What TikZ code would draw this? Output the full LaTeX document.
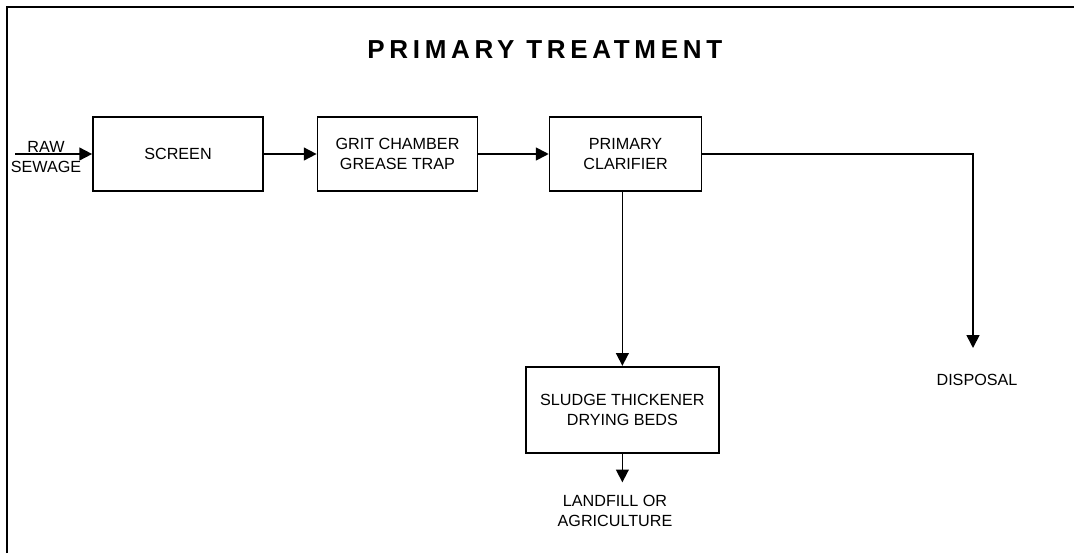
\documentclass[tikz,border=0pt]{standalone}
\usepackage{fontspec}
\setmainfont{Liberation Sans}
\newfontfamily\titlefont[LetterSpace=18]{Liberation Sans}
\usetikzlibrary{positioning,arrows.meta}

\begin{document}
\begin{tikzpicture}[node distance=1.32cm,>={Triangle[length=0.32cm,width=0.32cm]},line width=1.2pt,
    unit/.style={draw, minimum height=1.85cm, align=center, font=\fontsize{11.5}{14}\selectfont},
    lbl/.style={align=center, font=\fontsize{11.5}{14}\selectfont}]
        \useasboundingbox (0,0) rectangle (26.85,-13.825);
        \draw[line width=1.5pt] (0.175,-13.825) -- (0.175,-0.175) -- (26.85,-0.175);
        \node (title) at (13.62,-1.25) {\titlefont\bfseries\fontsize{18.5}{22}\selectfont PRIMARY TREATMENT};
        \node (screen) [unit, minimum width=4.25cm] at (4.45,-3.85) {SCREEN};
        \node (grit) [unit, minimum width=4cm, right=of screen] {GRIT CHAMBER\\GREASE TRAP};
        \node (clar) [unit, minimum width=3.8cm, right=1.76cm of grit] {PRIMARY\\CLARIFIER};
        \node (sludge) [unit, minimum width=4.825cm, minimum height=2.15cm, below=4.35cm of clar, xshift=-0.08cm] {SLUDGE THICKENER\\DRYING BEDS};
        \coordinate (rawin) at (0.375,-3.85);
        \node (raw) [lbl] at (1.15,-3.92) {RAW\\SEWAGE};
        \coordinate[below=0.72cm of sludge.south] (landend);
        \node (landfill) [lbl] at (15.375,-12.775) {LANDFILL OR\\AGRICULTURE};
        \coordinate (dispend) at (24.325,-8.7);
        \node (disposal) [lbl] at (24.425,-9.5) {DISPOSAL};
        \draw[->] (rawin) -- (screen);
        \draw[->] (screen) -- (grit);
        \draw[->] (grit) -- (clar);
        \draw[->] (clar.east) -| (dispend);
        \draw[->] (sludge.north |- clar.south) -- (sludge);
        \draw[->] (sludge) -- (landend);
    \end{tikzpicture}
\end{document}
